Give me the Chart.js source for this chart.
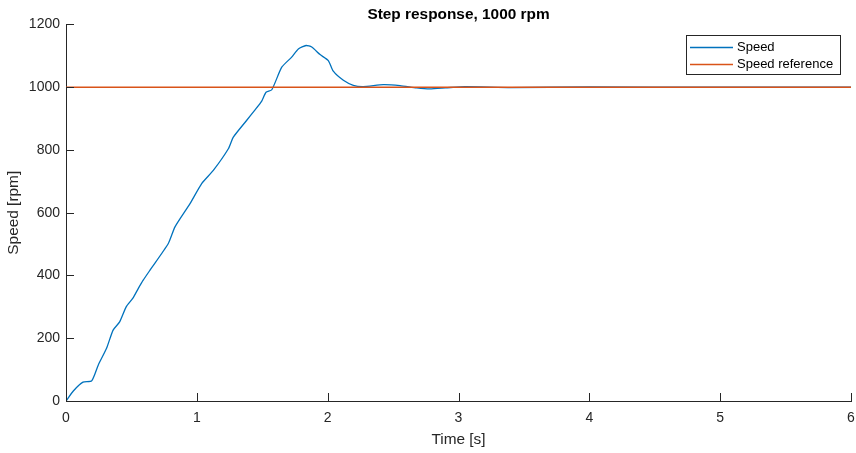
<!DOCTYPE html>
<html>
<head>
<meta charset="utf-8">
<title>Step response, 1000 rpm</title>
<script src="https://cdn.jsdelivr.net/npm/chart.js@4/dist/chart.umd.min.js"></script>
<style>
  html, body { margin: 0; padding: 0; background: #ffffff; }
  #wrap { width: 856px; height: 453px; }
</style>
</head>
<body>
<div id="wrap"><canvas id="chart" width="856" height="453"></canvas></div>
<script>
// Step response data (time in s, speed in rpm)
const timeS = [0, 0.056, 0.13, 0.196, 0.247, 0.31, 0.36, 0.41, 0.46, 0.51, 0.553, 0.59, 0.642,
  0.782, 0.833, 0.948, 1.037, 1.126, 1.241, 1.279, 1.38, 1.445, 1.496, 1.529, 1.573, 1.649,
  1.725, 1.776, 1.835, 1.878, 1.942, 2.005, 2.043, 2.12, 2.196, 2.272, 2.425, 2.553, 2.68,
  2.78, 2.9, 3.05, 3.4, 4.0, 5.0, 6.0];
const speedRpm = [0, 32, 60, 64, 115, 168, 226, 252, 300, 327, 359, 385, 417,
  502, 555, 629, 693, 735, 804, 841, 894, 928, 956, 984, 992, 1064,
  1096, 1122, 1133, 1128, 1104, 1085, 1051, 1022, 1006, 1002, 1008, 1005, 998,
  995, 998, 1002, 999, 1001, 1000, 1000];
const refTime = [0, 6];
const refRpm = [1000, 1000];

const xTicks = [0, 1, 2, 3, 4, 5, 6];
const yTicks = [0, 200, 400, 600, 800, 1000, 1200];

const FONT = 'Liberation Sans, Arial, Helvetica, sans-serif';
const AXIS_COLOR = '#262626';
const SPEED_COLOR = '#0072BD';
const REF_COLOR = '#D95319';

const toPoints = (xs, ys) => xs.map((x, i) => ({ x, y: ys[i] }));

// MATLAB-style inward tick marks
const inwardTicks = {
  id: 'inwardTicks',
  afterDatasetsDraw(chart) {
    const { ctx, chartArea, scales } = chart;
    ctx.save();
    ctx.strokeStyle = AXIS_COLOR;
    ctx.lineWidth = 1;
    ctx.beginPath();
    xTicks.forEach(v => {
      const px = Math.round(scales.x.getPixelForValue(v)) + 0.5;
      ctx.moveTo(px, chartArea.bottom);
      ctx.lineTo(px, chartArea.bottom - 8);
    });
    yTicks.forEach(v => {
      const py = Math.round(scales.y.getPixelForValue(v)) + 0.5;
      ctx.moveTo(chartArea.left, py);
      ctx.lineTo(chartArea.left + 8, py);
    });
    ctx.stroke();
    ctx.restore();
  }
};

// legend box in the top right corner of the axes
const boxLegend = {
  id: 'boxLegend',
  afterDraw(chart) {
    const { ctx } = chart;
    const x0 = 686.5, y0 = 35.5, w = 154, h = 39;
    ctx.save();
    ctx.fillStyle = '#ffffff';
    ctx.fillRect(x0, y0, w, h);
    ctx.strokeStyle = '#262626';
    ctx.lineWidth = 1;
    ctx.strokeRect(x0, y0, w, h);
    ctx.font = '13px ' + FONT;
    ctx.textBaseline = 'middle';
    ctx.fillStyle = '#000000';
    chart.data.datasets.forEach((ds, i) => {
      const y = 47.5 + i * 17;
      ctx.strokeStyle = ds.borderColor;
      ctx.lineWidth = 1.3;
      ctx.beginPath();
      ctx.moveTo(690, y);
      ctx.lineTo(733, y);
      ctx.stroke();
      ctx.fillText(ds.label, 737, y);
    });
    ctx.restore();
  }
};

new Chart(document.getElementById('chart').getContext('2d'), {
  type: 'line',
  data: {
    datasets: [
      {
        label: 'Speed',
        data: toPoints(timeS, speedRpm),
        borderColor: SPEED_COLOR,
        borderWidth: 1.3,
        pointRadius: 0,
        tension: 0.2,
        order: 1
      },
      {
        label: 'Speed reference',
        data: toPoints(refTime, refRpm),
        borderColor: REF_COLOR,
        borderWidth: 1.3,
        pointRadius: 0,
        tension: 0,
        order: 0
      }
    ]
  },
  options: {
    responsive: false,
    animation: false,
    devicePixelRatio: 1,
    layout: { padding: { left: 0, right: 5, top: 0, bottom: 0 } },
    plugins: {
      legend: { display: false },
      tooltip: { enabled: false },
      title: {
        display: true,
        text: 'Step response, 1000 rpm',
        fullSize: false,
        color: '#000000',
        font: { family: FONT, size: 15.4, weight: 'bold' },
        padding: { top: 6, bottom: 0 }
      }
    },
    scales: {
      x: {
        type: 'linear',
        min: 0,
        max: 6,
        afterBuildTicks: s => { s.ticks = xTicks.map(v => ({ value: v })); },
        afterFit: s => { s.height = 52; s.paddingLeft = 0; s.paddingRight = 0; },
        grid: { display: false, drawTicks: false },
        border: { display: true, color: AXIS_COLOR, width: 1 },
        ticks: {
          color: AXIS_COLOR, padding: 9, maxRotation: 0,
          font: { family: FONT, size: 14 },
          callback: v => String(v)
        },
        title: {
          display: true,
          text: 'Time [s]',
          color: AXIS_COLOR,
          font: { family: FONT, size: 15.4 },
          padding: { top: 0, bottom: 4 }
        }
      },
      y: {
        type: 'linear',
        min: 0,
        max: 1200,
        afterBuildTicks: s => { s.ticks = yTicks.map(v => ({ value: v })); },
        afterFit: s => { s.width = 66; },
        grid: { display: false, drawTicks: false },
        border: { display: true, color: AXIS_COLOR, width: 1 },
        ticks: {
          color: AXIS_COLOR, padding: 6,
          font: { family: FONT, size: 14 },
          callback: v => String(v)
        },
        title: {
          display: true,
          text: 'Speed [rpm]',
          color: AXIS_COLOR,
          font: { family: FONT, size: 15.4 },
          padding: { top: 5, bottom: 0 }
        }
      }
    }
  },
  plugins: [inwardTicks, boxLegend]
});
</script>
</body>
</html>
